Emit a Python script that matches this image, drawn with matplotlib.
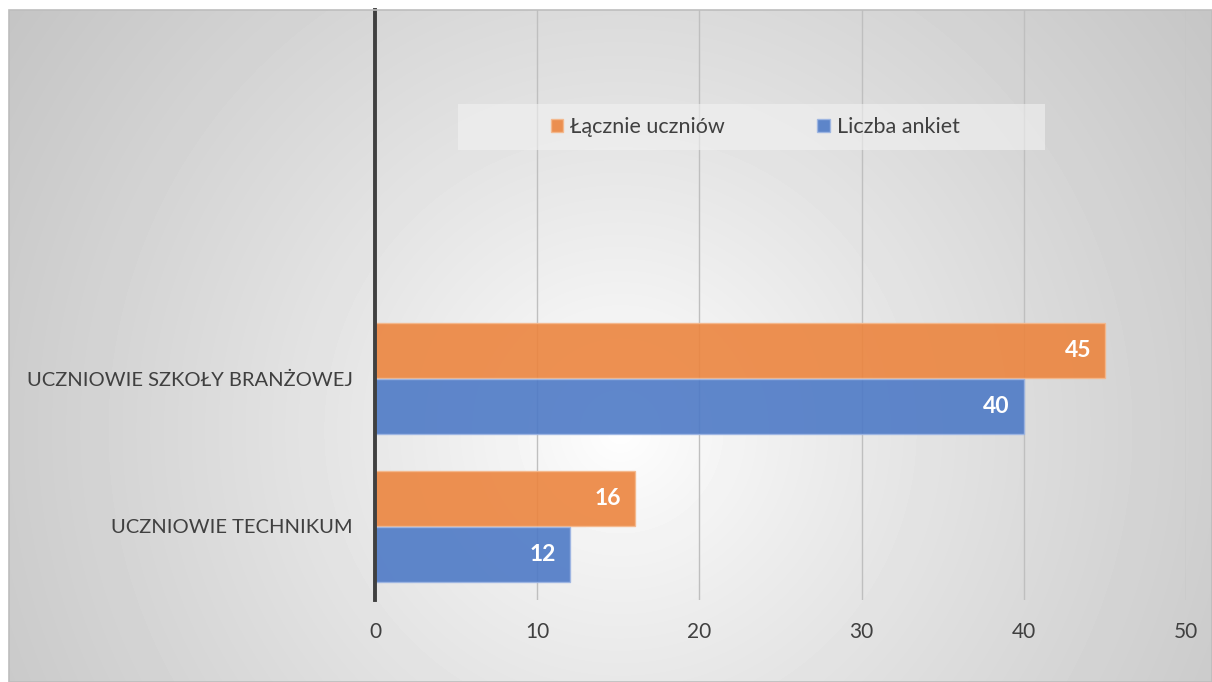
import numpy as np
import matplotlib.pyplot as plt
from matplotlib.patches import Patch, Rectangle

# data
categories = ["UCZNIOWIE TECHNIKUM", "UCZNIOWIE SZKOŁY BRANŻOWEJ", "", ""]
laczne = [16, 45]
ankiety = [12, 40]
series_names = ["Łącznie uczniów", "Liczba ankiet"]
xticks = [0, 10, 20, 30, 40, 50]

orange = (236 / 255, 133 / 255, 63 / 255)
blue = (78 / 255, 122 / 255, 198 / 255)
txt = "#404040"

plt.rcParams['font.family'] = ['Lato', 'DejaVu Sans']

W, H = 1212, 682
fig = plt.figure(figsize=(W / 100, H / 100), dpi=100)
fig.patch.set_facecolor("white")

# radial gradient background of the chart area
bg = fig.add_axes([9 / W, 0, (W - 9) / W, (H - 10) / H])
xx, yy = np.meshgrid(np.arange(9, W), np.arange(10, H))
d = np.hypot(xx - 620, yy - 430) / 741.0
shade = 1 - 0.23 * d ** 0.85
bg.imshow(shade, cmap="gray", vmin=0, vmax=1, aspect="auto",
          extent=[9, W, H, 10], interpolation="bilinear")
bg.set_xlim(9, W)
bg.set_ylim(H, 10)
bg.axis("off")
fig.add_artist(Rectangle((9 / W, 0), (W - 9) / W, (H - 10) / H,
                         transform=fig.transFigure, fill=False,
                         edgecolor="#bdbdbd", lw=1.2))

ax = fig.add_axes([375 / W, 1 - 600 / H, 811 / W, 590 / H])
ax.patch.set_alpha(0)

y = np.arange(len(laczne))
h = 0.37
ax.barh(y + 0.19, laczne, height=h, color=orange, alpha=0.9,
        edgecolor="#f5b88c", linewidth=1, zorder=3)
ax.barh(y - 0.19, ankiety, height=h, color=blue, alpha=0.9,
        edgecolor="#9db5e3", linewidth=1, zorder=3)

for yi, v in zip(y, laczne):
    ax.annotate(str(v), (v, yi + 0.19), xytext=(-10, 0), textcoords="offset points",
                ha="right", va="center", color="white", fontsize=16.5,
                fontweight="bold", zorder=5)
for yi, v in zip(y, ankiety):
    ax.annotate(str(v), (v, yi - 0.19), xytext=(-10, 0), textcoords="offset points",
                ha="right", va="center", color="white", fontsize=16.5,
                fontweight="bold", zorder=5)

ax.set_xlim(0, 50)
ax.set_ylim(-0.5, len(categories) - 0.5)
ax.set_xticks(xticks)
ax.set_yticks(np.arange(len(categories)))
ax.set_yticklabels(categories)
ax.tick_params(axis="y", length=0, pad=16, labelsize=14.5, labelcolor=txt)
ax.tick_params(axis="x", length=0, pad=16, labelsize=15, labelcolor=txt)
ax.grid(axis="x", color="#bfbfbf", lw=1, zorder=1)
for s in ["top", "right", "bottom"]:
    ax.spines[s].set_visible(False)
ax.spines["left"].set_color("#404040")
ax.spines["left"].set_linewidth(2.8)
ax.spines["left"].set_zorder(6)

# legend
ax.add_patch(Rectangle((0.1023, 0.7627), 0.7238, 0.078, transform=ax.transAxes,
                       facecolor="#f2f2f2", alpha=0.6, edgecolor="none", zorder=4))
handles = [Patch(facecolor=orange, edgecolor="#f5b88c", alpha=0.9),
           Patch(facecolor=blue, edgecolor="#9db5e3", alpha=0.9)]
leg = ax.legend(handles, series_names, loc="center", bbox_to_anchor=(0.4686, 0.8017),
                ncol=2, frameon=False, fontsize=15.5, handlelength=0.6,
                handleheight=0.6, handletextpad=0.3, columnspacing=4.3,
                labelcolor=txt)
leg.set_zorder(5)

fig.savefig("out.png", dpi=100)
